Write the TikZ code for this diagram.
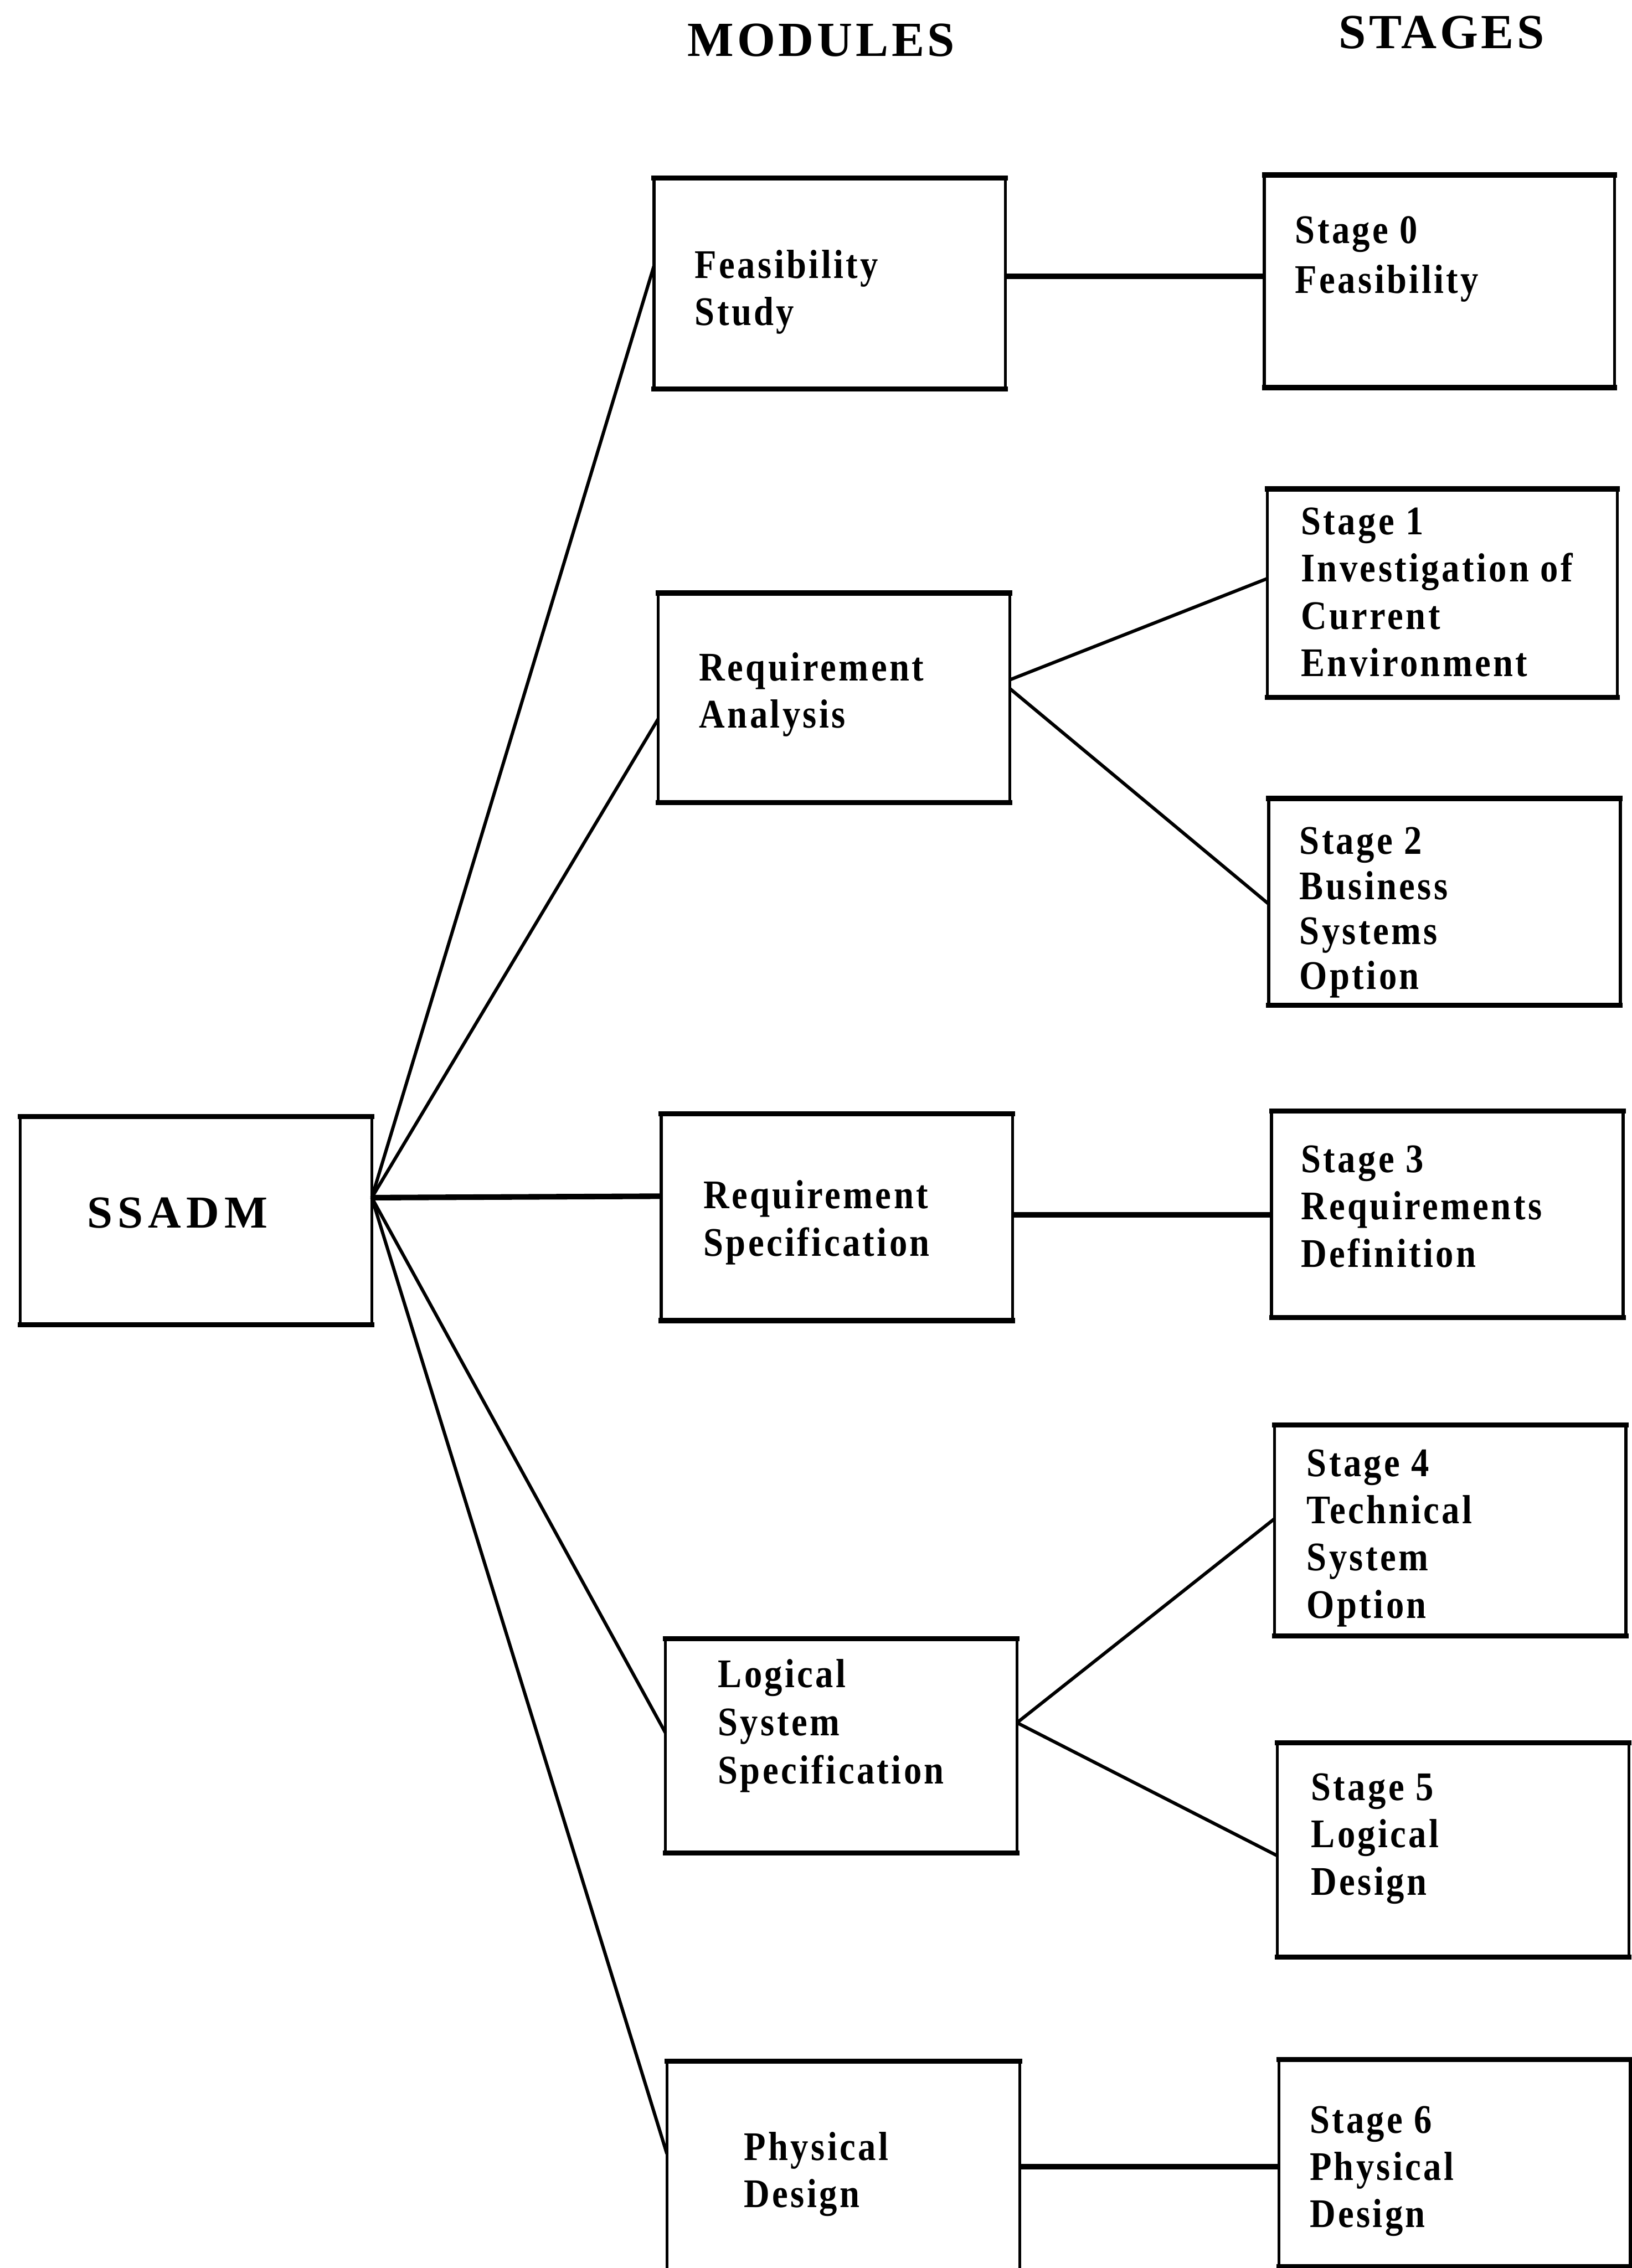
\documentclass[tikz,border=0pt]{standalone}
\usepackage{fontspec}
\usetikzlibrary{calc}
\setmainfont{Liberation Serif}
\newfontfamily\lblfont{Liberation Serif}[FakeStretch=0.88,LetterSpace=6]
\newfontfamily\hdrfont{Liberation Serif}[LetterSpace=6.5]
\newfontfamily\rootfont{Liberation Serif}[LetterSpace=11]

% box from left/top/right/bottom corner values
\newcommand\mkbox[5]{%
  \node[boxshape, minimum width={(#4-#2)*0.02cm}, minimum height={(#5-#3)*0.02cm}]
    (#1) at ({(#2+#4)/2},{(#3+#5)/2}) {};
  \draw[hedge] (#1.north west) -- (#1.north east);
  \draw[hedge] (#1.south west) -- (#1.south east);
}

\tikzset{
  boxshape/.style={draw, rectangle, line width=1.2pt, inner sep=0pt, outer sep=0pt},
  hedge/.style={line width=2pt, line cap=rect},
  % multi-line label: the given point is the baseline of the first line
  lbl/.style={font=\lblfont\bfseries\fontsize{16}{#1}\selectfont, align=left,
    inner sep=0pt, anchor=north west, yshift=11pt,
    execute at begin node={\rule{0pt}{11pt}}},
  lbl/.default=18.6pt,
  hdr/.style={font=\hdrfont\bfseries\fontsize{19.3}{22}\selectfont, inner sep=0pt, anchor=base west},
  rootlbl/.style={font=\rootfont\bfseries\fontsize{18}{21}\selectfont, inner sep=0pt, anchor=base west},
  diag/.style={line width=1.3pt},
  flat/.style={line width=2.2pt},
}

\begin{document}
\begin{tikzpicture}[x=0.02cm, y=-0.02cm]
\useasboundingbox (0,0) rectangle (1128,1568);

% column headings
\node[hdr] (hmod) at (475,39) {MODULES};
\node[hdr] (hstg) at (925,33.5) {STAGES};

% root
\mkbox{ssadm}{14}{772}{257}{916}
\node[rootlbl] (ssadmT) at (60,849) {SSADM};

% modules
\mkbox{fs}{452}{123}{695}{269}
\mkbox{ra}{455}{410}{698}{555}
\mkbox{rs}{457}{770}{700}{913}
\mkbox{ls}{460}{1133}{703}{1281}
\mkbox{pd}{461}{1425}{705}{1580}

\node[lbl] (fsT) at (480,191.7) {Feasibility\\Study};
\node[lbl] (raT) at (483,470) {Requirement\\Analysis};
\node[lbl] (rsT) at (486,835) {Requirement\\Specification};
\node[lbl=19pt] (lsT) at (496,1166) {Logical\\System\\Specification};
\node[lbl] (pdT) at (514,1493) {Physical\\Design};

% stages
\mkbox{s0}{874}{121}{1116}{268}
\mkbox{s1}{876}{338}{1118}{482}
\mkbox{s2}{877}{552}{1120}{695}
\mkbox{s3}{879}{768}{1122}{911}
\mkbox{s4}{881}{985}{1124}{1131}
\mkbox{s5}{883}{1205}{1126}{1353}
\mkbox{s6}{884}{1424}{1127}{1567}

\node[lbl=19.6pt] (s0T) at (895,168.5) {Stage 0\\Feasibility};
\node[lbl] (s1T) at (899,370) {Stage 1\\Investigation of\\Current\\Environment};
\node[lbl=17.7pt] (s2T) at (898,591) {Stage 2\\Business\\Systems\\Option};
\node[lbl] (s3T) at (899,811) {Stage 3\\Requirements\\Definition};
\node[lbl] (s4T) at (903,1021) {Stage 4\\Technical\\System\\Option};
\node[lbl] (s5T) at (906,1245) {Stage 5\\Logical\\Design};
\node[lbl] (s6T) at (905,1475) {Stage 6\\Physical\\Design};

% root to modules
\draw[diag] ($(ssadm.north east)+(0,56)$) -- ($(fs.north west)+(0,61)$);
\draw[diag] ($(ssadm.north east)+(0,56)$) -- ($(ra.north west)+(0,87)$);
\draw[flat] ($(ssadm.north east)+(0,56)$) -- ($(rs.north west)+(0,57)$);
\draw[diag] ($(ssadm.north east)+(0,56)$) -- ($(ls.north west)+(0,65)$);
\draw[diag] ($(ssadm.north east)+(0,56)$) -- ($(pd.north west)+(0,64)$);

% modules to stages
\draw[flat] ($(fs.north east)+(0,68)$) -- ($(s0.north west)+(0,70)$);
\draw[diag] ($(ra.north east)+(0,60)$) -- ($(s1.north west)+(0,62)$);
\draw[diag] ($(ra.north east)+(0,66)$) -- ($(s2.north west)+(0,73)$);
\draw[flat] ($(rs.north east)+(0,70)$) -- ($(s3.north west)+(0,72)$);
\draw[diag] ($(ls.north east)+(0,58)$) -- ($(s4.north west)+(0,65)$);
\draw[diag] ($(ls.north east)+(0,58)$) -- ($(s5.north west)+(0,78)$);
\draw[flat] ($(pd.north east)+(0,73)$) -- ($(s6.north west)+(0,74)$);
\end{tikzpicture}
\end{document}
